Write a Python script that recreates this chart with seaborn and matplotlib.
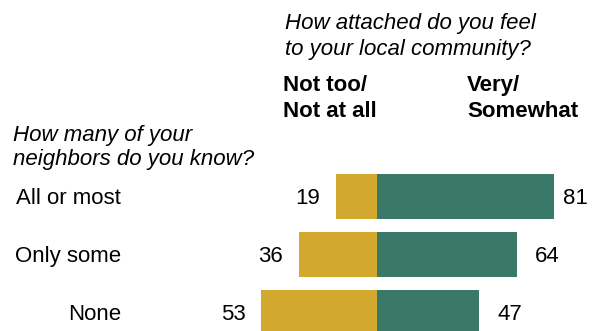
import pandas as pd
import seaborn as sns
import matplotlib.pyplot as plt

# data
groups = ["All or most", "Only some", "None"]
not_attached = [19, 36, 53]
attached = [81, 64, 47]

df = pd.DataFrame({"group": groups, "not": not_attached, "very": attached})
df["not_neg"] = -df["not"]

sns.set_theme(style="white")
plt.rcParams["font.family"] = ["Liberation Sans", "DejaVu Sans"]
plt.rcParams["text.color"] = "black"

W, H = 598, 331
fig = plt.figure(figsize=(W / 100, H / 100), dpi=100)
ax = fig.add_axes([0, 0, 1, 1])

gold = "#D2A82F"
green = "#3A7868"
sns.barplot(data=df, y="group", x="not_neg", color=gold, width=0.767,
            saturation=1, linewidth=0, ax=ax, orient="h")
sns.barplot(data=df, y="group", x="very", color=green, width=0.767,
            saturation=1, linewidth=0, ax=ax, orient="h")

# pixel-based layout: zero line at x=377, 2.18 px per point, rows 58 px apart
px_per = 2.18
x0 = 377
ax.set_xlim(-x0 / px_per, (W - x0) / px_per)
row0, row_h = 196.3, 58
ax.set_ylim((H - row0) / row_h, -row0 / row_h)
ax.axis("off")

fs = 16
cap = 8 / row_h  # half cap height in row units, for baseline placement
right_gaps = [9, 18, 18]
for i, g in enumerate(groups):
    ax.text((121 - x0) / px_per, i + cap, g, ha="right", va="baseline", fontsize=fs)
    ax.text(-not_attached[i] - 16 / px_per, i + cap, str(not_attached[i]),
            ha="right", va="baseline", fontsize=fs)
    ax.text(attached[i] + right_gaps[i] / px_per, i + cap, str(attached[i]),
            ha="left", va="baseline", fontsize=fs)

def ftext(x, y, s, **kw):
    fig.text(x / W, 1 - y / H, s, fontsize=fs, va="baseline", **kw)

ftext(285, 29, "How attached do you feel", style="italic")
ftext(285, 55, "to your local community?", style="italic")
ftext(283, 91, "Not too/", weight="bold")
ftext(283, 117, "Not at all", weight="bold")
ftext(467, 91, "Very/", weight="bold")
ftext(467, 117, "Somewhat", weight="bold")
ftext(13, 141, "How many of your", style="italic")
ftext(13, 165, "neighbors do you know?", style="italic")

fig.savefig("out.png", dpi=100)
